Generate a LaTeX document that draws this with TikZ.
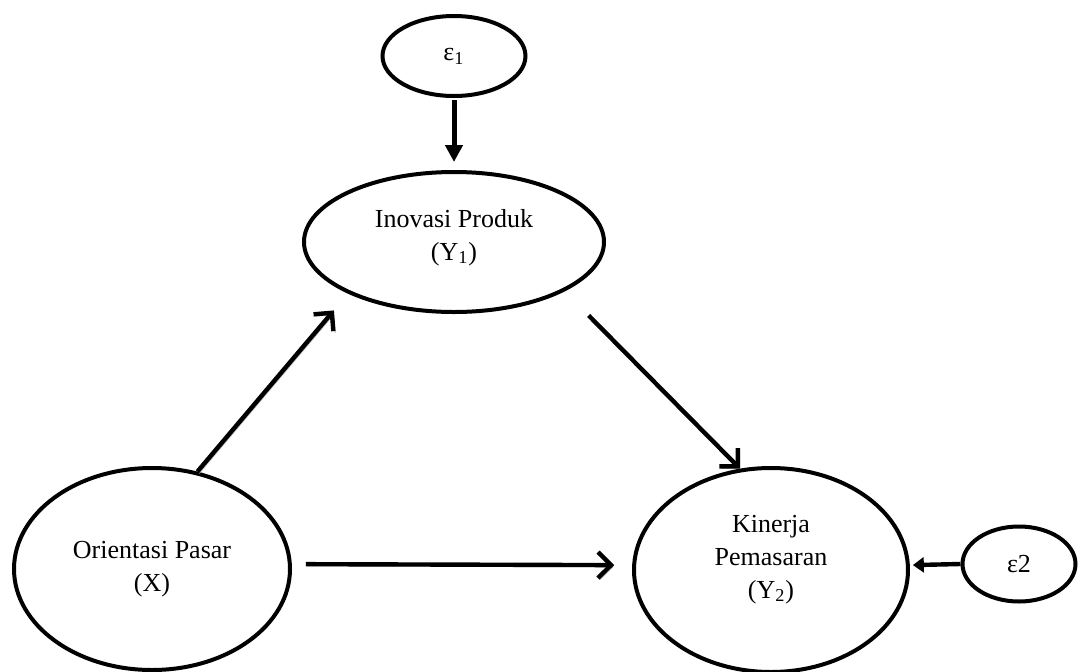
\documentclass[tikz,border=0pt]{standalone}
\usepackage{fontspec}
\setmainfont{Liberation Serif}
\usetikzlibrary{arrows.meta,shapes.geometric}

\begin{document}
\begin{tikzpicture}[x=0.5pt, y=-0.5pt,
    every node/.style={font=\fontsize{13}{16.5}\selectfont},
    latent/.style={ellipse, draw, line width=2pt, inner sep=0pt, align=center},
    effect/.style={line width=2.2pt, -{Straight Barb[length=6.5pt,width=13pt]},
        preaction={draw=gray!55, transform canvas={shift={(0.9pt,-0.9pt)}}}},
    errarrow/.style={line width=2.5pt, -{Triangle[length=8.5pt,width=8.5pt]}}]
    \useasboundingbox (0,0) rectangle (1078,671);

    % Error terms
    \node[latent, minimum width=71.5pt, minimum height=40pt] (e1) at (454,56) {ε\textsubscript{1}};
    \node[latent, minimum width=56.5pt, minimum height=37.5pt] (e2) at (1019,564) {ε2};

    % Variables
    \node[latent, minimum width=150pt, minimum height=70pt, text depth=7.5pt] (inov) at (454,242) {Inovasi Produk\\(Y\textsubscript{1})};
    \node[latent, minimum width=138pt, minimum height=101pt] (orient) at (152,569) {Orientasi Pasar\\(X)};
    \node[latent, minimum width=137pt, minimum height=102pt, text depth=13.5pt] (kinerja) at (771,570) {Kinerja\\Pemasaran\\(Y\textsubscript{2})};

    % Paths between variables
    \draw[effect, shorten >=11pt] (orient.65) -- (inov.206);
    \draw[effect, shorten <=17pt] (inov.336) -- (kinerja.107);
    \draw[effect, shorten <=7pt, shorten >=9pt] (orient.2) -- (kinerja.178);

    % Error arrows
    \draw[errarrow, shorten <=1pt, shorten >=4pt] (e1.south) -- (inov.north);
    \draw[errarrow, line width=2.2pt, -{Triangle[length=5.5pt,width=7.5pt]}, shorten >=1.5pt] (e2.west) -- (kinerja.2);
\end{tikzpicture}
\end{document}
